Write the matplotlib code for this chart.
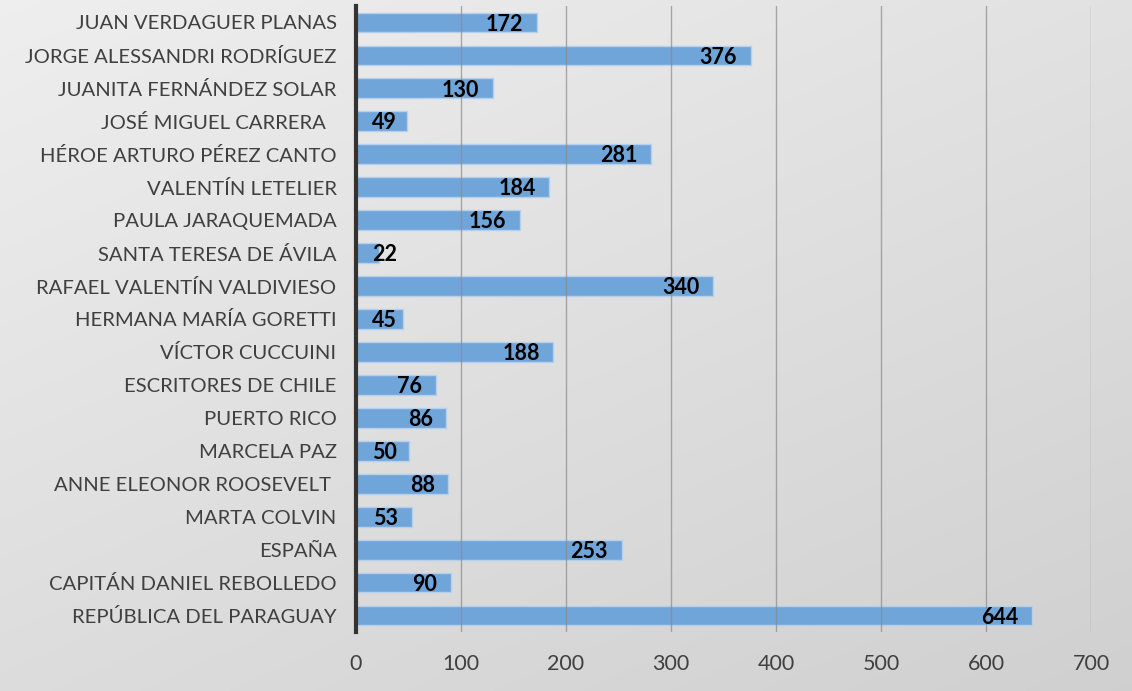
import matplotlib
matplotlib.use("Agg")
import matplotlib.pyplot as plt
import numpy as np

categories = [
    "JUAN VERDAGUER PLANAS",
    "JORGE ALESSANDRI RODRÍGUEZ",
    "JUANITA FERNÁNDEZ SOLAR",
    "JOSÉ MIGUEL CARRERA  ",
    "HÉROE ARTURO PÉREZ CANTO",
    "VALENTÍN LETELIER",
    "PAULA JARAQUEMADA",
    "SANTA TERESA DE ÁVILA",
    "RAFAEL VALENTÍN VALDIVIESO",
    "HERMANA MARÍA GORETTI",
    "VÍCTOR CUCCUINI",
    "ESCRITORES DE CHILE",
    "PUERTO RICO",
    "MARCELA PAZ",
    "ANNE ELEONOR ROOSEVELT ",
    "MARTA COLVIN",
    "ESPAÑA",
    "CAPITÁN DANIEL REBOLLEDO",
    "REPÚBLICA DEL PARAGUAY",
]
values = [172, 376, 130, 49, 281, 184, 156, 22, 340, 45, 188, 76, 86, 50, 88, 53, 253, 90, 644]
xticks = [0, 100, 200, 300, 400, 500, 600, 700]

plt.rcParams['font.family'] = ['Lato', 'DejaVu Sans']

fig = plt.figure(figsize=(11.32, 6.91), dpi=100)

# gradient background
bg = fig.add_axes([0, 0, 1, 1], zorder=-10)
yy, xx = np.mgrid[0:1:200j, 0:1:300j]
g = 0.935 - 0.07 * yy - 0.05 * xx
bg.imshow(np.dstack([g, g, g]), aspect='auto', extent=[0, 1, 0, 1], origin='upper')
bg.set_axis_off()

ax = fig.add_axes([356/1132, 59/691, (1091-356)/1132, (632-6)/691])
ax.patch.set_alpha(0)

n = len(categories)
ypos = np.arange(n)
ax.barh(ypos, values, height=0.6, color='#6fa5d9', edgecolor='#b5d0ec', linewidth=1.0, zorder=2)

ax.set_xlim(0, 700)
ax.set_ylim(n - 0.5, -0.5)
ax.set_xticks(xticks)
ax.set_xticklabels([str(t) for t in xticks], fontsize=15.5, color='#404040')
ax.set_yticks(ypos)
ax.set_yticklabels(categories, fontsize=14.6, color='#404040')
ax.tick_params(axis='both', length=0)
ax.tick_params(axis='y', pad=14)
ax.tick_params(axis='x', pad=16)

for t in xticks[1:]:
    ax.axvline(t, color='#8a8a8a', lw=1.0, alpha=0.7, zorder=3)

for s in ['top', 'right', 'bottom']:
    ax.spines[s].set_visible(False)
ax.spines['left'].set_color('#333333')
ax.spines['left'].set_linewidth(3)
ax.spines['left'].set_zorder(5)

for y, v in zip(ypos, values):
    xr = max(v - 13, 39)
    ax.text(xr, y + 0.05, str(v), ha='right', va='center', fontsize=15.5,
            fontweight='bold', color='black', zorder=6)

fig.savefig("out.png", dpi=100)
